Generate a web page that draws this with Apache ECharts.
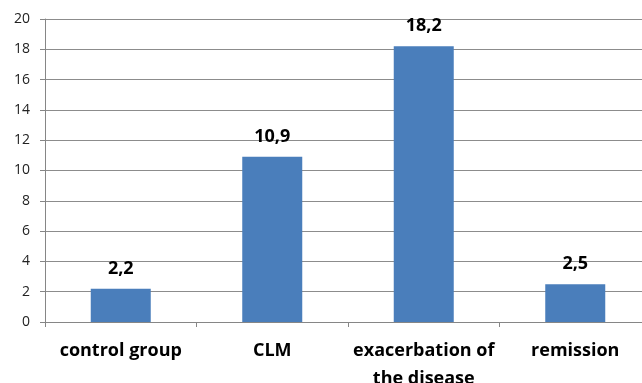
<!DOCTYPE html>
<html>
<head>
<meta charset="utf-8">
<script src="https://cdn.jsdelivr.net/npm/echarts@6/dist/echarts.min.js"></script>
<style>
  html, body { margin: 0; padding: 0; background: #fff; }
  #chart { width: 642px; height: 383px; }
</style>
</head>
<body>
<div id="chart"></div>
<script>
// Groups and mean values shown by the bars
const categories = ['control group', 'CLM', 'exacerbation of\nthe disease', 'remission'];
const values = [2.2, 10.9, 18.2, 2.5];
const yTicks = { min: 0, max: 20, interval: 2 };

const chart = echarts.init(document.getElementById('chart'));
const font = '"Open Sans", "DejaVu Sans", sans-serif';

chart.setOption({
  animation: false,
  grid: {
    left: 45, top: 19, width: 606, height: 303,
    containLabel: false,
    outerBoundsMode: 'none'
  },
  xAxis: {
    type: 'category',
    data: categories,
    axisLine: { lineStyle: { color: '#868686', width: 1 } },
    axisTick: { show: true, alignWithLabel: false, length: 5, lineStyle: { color: '#868686' } },
    axisLabel: {
      color: '#000',
      fontFamily: font,
      fontWeight: 'bold',
      fontSize: 18,
      margin: 15,
      lineHeight: 28,
      interval: 0
    }
  },
  yAxis: {
    type: 'value',
    min: yTicks.min,
    max: yTicks.max,
    interval: yTicks.interval,
    axisLine: { show: true, lineStyle: { color: '#868686', width: 1 } },
    axisTick: { show: true, length: 5, lineStyle: { color: '#868686' } },
    axisLabel: { color: '#222', fontFamily: font, fontSize: 14, margin: 15 },
    splitLine: { show: true, lineStyle: { color: '#8c8c8c', width: 1 } }
  },
  series: [{
    type: 'bar',
    data: values,
    barWidth: 60,
    itemStyle: { color: '#4a7ebb' },
    label: {
      show: true,
      position: 'top',
      distance: 11,
      color: '#000',
      fontFamily: font,
      fontWeight: 'bold',
      fontSize: 18,
      formatter: p => String(p.value).replace('.', ',')
    }
  }]
});
</script>
</body>
</html>
